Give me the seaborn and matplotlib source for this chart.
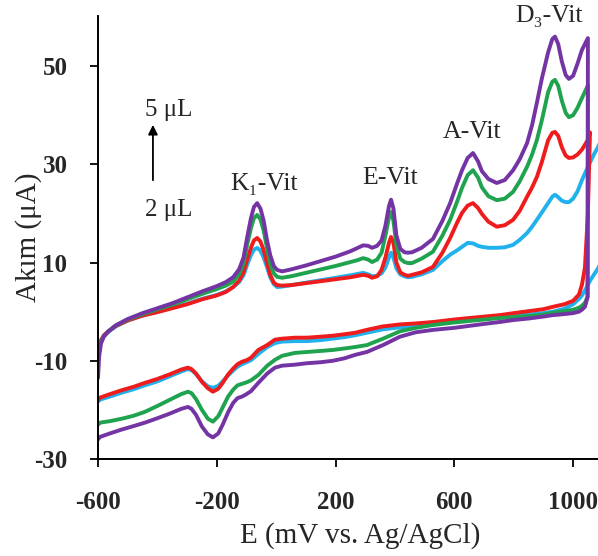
import matplotlib
matplotlib.use("Agg")
import matplotlib.pyplot as plt
import seaborn as sns

# Potential grids (mV vs. Ag/AgCl) for the anodic (forward) and cathodic (reverse) sweeps
x_fwd = [-600, -596, -590, -580, -565, -540, -500, -450, -400, -350, -300, -250,
         -200, -170, -145, -125, -110, -98, -85, -75, -64, -53, -42, -31, -20, -8,
         3, 20, 50, 100, 150, 200, 250, 275, 293, 310, 323, 340, 355, 368, 380,
         387, 395, 405, 418, 432, 444, 458, 490, 528, 560, 586, 610, 626, 645,
         663, 680, 693, 715, 743, 770, 798, 820, 845, 862, 878, 895, 916, 930,
         939, 950, 962, 975, 986, 1000, 1015, 1030, 1050]

x_rev = [1040, 1030, 1020, 1000, 970, 933, 900, 850, 800, 754, 700, 650, 600,
         530, 470, 417, 360, 306, 266, 230, 191, 150, 104, 63, 20, -4, -30, -60,
         -85, -100, -115, -130, -145, -162, -180, -195, -213, -230, -250, -270,
         -285, -297, -320, -360, -400, -442, -480, -520, -560, -593, -600]

# Current (uA), 2 uL sample (light blue)
blue_fwd = [-9.5, -7.3, -6.0, -5.0, -4.1, -3.0, -1.8, -0.8, 0.0, 0.8, 1.6, 2.6,
            3.4, 4.1, 5.0, 6.0, 7.4, 9.5, 11.5, 12.6, 13.0, 12.4, 11.0, 9.1, 7.0, 5.6,
            5.0, 5.1, 5.4, 5.9, 6.4, 6.9, 7.4, 7.7, 7.9, 7.6, 7.2, 7.3, 7.8, 9.0, 11.0,
            12.0, 11.0, 8.8, 7.6, 7.2, 7.0, 7.1, 7.6, 8.5, 10.3, 11.6, 12.5, 13.2, 14.0,
            13.9, 13.4, 13.2, 13.0, 13.0, 13.1, 13.6, 14.6, 16.0, 17.3, 18.7, 20.2, 22.1, 23.4,
            23.8, 23.3, 22.6, 22.3, 22.3, 23.0, 24.5, 26.8, 29.5]
blue_turn_x = [1070, 1084, 1100, 1100, 1084, 1070, 1057]
blue_turn_y = [32.0, 33.5, 36.0, 11.0, 8.8, 7.5, 6.3]
blue_rev = [4.3, 3.3, 2.6, 1.5, 0.6, 0.0, -0.3, -0.6, -0.9, -1.1, -1.4, -1.7, -2.0,
            -2.5, -2.9, -3.2, -3.6, -4.3, -4.8, -5.2, -5.5, -5.8, -6.0, -6.0, -6.1, -6.4, -7.2, -8.6,
            -9.9, -10.3, -10.7, -11.2, -12.0, -13.0, -14.2, -15.1, -15.5, -15.2, -14.2, -12.7,
            -11.9, -11.7, -12.2, -13.2, -14.2, -15.0, -15.8, -16.5, -17.3, -17.9, -18.3]

# 3 uL (red)
red_fwd = [-9.0, -7.0, -5.8, -4.8, -4.0, -2.9, -1.8, -0.8, -0.1, 0.7, 1.5, 2.5,
           3.3, 4.0, 5.0, 6.3, 8.0, 10.5, 13.0, 14.5, 15.0, 14.3, 12.5, 9.9, 7.5, 5.9,
           5.4, 5.3, 5.4, 5.8, 6.2, 6.6, 7.0, 7.3, 7.5, 7.3, 6.9, 7.2, 8.5, 11.0, 14.0,
           15.2, 14.0, 10.0, 8.0, 7.5, 7.3, 7.5, 8.0, 9.1, 12.0, 15.0, 18.2, 20.1, 21.6,
           22.1, 21.1, 19.9, 18.3, 17.3, 17.6, 18.7, 20.5, 23.4, 25.3, 27.4, 30.5, 34.9, 36.4,
           36.6, 35.8, 33.5, 31.8, 31.3, 31.4, 32.0, 33.0, 35.0]
red_turn_x = [1057, 1050]
red_turn_y = [36.5, 20.0]
red_rev = [9.0, 5.5, 3.5, 2.2, 1.5, 1.0, 0.5, 0.1, -0.3, -0.7, -1.0, -1.3, -1.6,
           -2.1, -2.4, -2.6, -3.0, -3.7, -4.3, -4.6, -4.9, -5.1, -5.3, -5.3, -5.5, -5.7, -6.8, -7.8,
           -9.4, -9.9, -10.2, -10.7, -11.6, -12.8, -14.5, -15.7, -16.3, -15.6, -14.3, -12.6,
           -11.7, -11.4, -11.8, -12.8, -13.7, -14.5, -15.3, -16.0, -16.8, -17.5, -18.0]

# 4 uL (green)
green_fwd = [-10.0, -7.5, -6.0, -5.0, -4.0, -2.8, -1.6, -0.5, 0.5, 1.4, 2.5, 3.6,
             4.6, 5.3, 6.1, 7.6, 9.8, 13.5, 17.0, 19.0, 19.7, 18.8, 16.5, 13.0, 9.8, 7.8,
             7.1, 6.9, 7.2, 7.9, 8.6, 9.3, 10.1, 10.5, 10.9, 10.6, 10.1, 10.6, 12.0, 15.5, 19.2,
             20.3, 18.5, 13.5, 10.8, 10.1, 9.9, 9.9, 10.8, 12.2, 15.5, 18.7, 22.5, 25.2, 27.8,
             28.8, 27.3, 25.3, 23.5, 22.7, 23.0, 24.4, 26.5, 29.5, 32.0, 34.9, 39.0, 44.7, 46.8,
             47.2, 46.0, 43.0, 40.5, 39.6, 40.0, 41.5, 43.5, 46.1]
green_turn_x = [1049]
green_turn_y = [3.0]
green_rev = [1.8, 1.2, 0.8, 0.4, 0.1, -0.2, -0.6, -0.9, -1.1, -1.3, -1.6, -1.9, -2.2,
             -2.7, -3.3, -4.0, -5.5, -6.8, -7.2, -7.5, -7.8, -8.0, -8.2, -8.4, -9.0, -9.8, -11.0, -12.9,
             -14.0, -14.4, -14.7, -15.0, -15.9, -17.3, -19.5, -21.3, -22.4, -21.8, -20.0, -17.8,
             -16.6, -16.3, -16.8, -18.0, -19.2, -20.4, -21.2, -21.8, -22.3, -22.6, -23.0]

# 5 uL (purple)
purple_fwd = [-13.5, -9.0, -6.5, -5.0, -4.0, -2.8, -1.5, -0.3, 0.7, 1.7, 2.9, 4.1,
              5.2, 6.0, 7.0, 8.6, 11.0, 15.0, 19.0, 21.3, 22.1, 21.0, 18.5, 14.6, 11.5, 9.3,
              8.5, 8.2, 8.6, 9.4, 10.3, 11.2, 12.3, 13.0, 13.5, 13.4, 13.0, 13.4, 14.5, 17.5, 21.5,
              22.8, 21.0, 15.5, 12.8, 12.1, 12.0, 12.1, 13.0, 14.8, 18.5, 22.1, 26.2, 28.8, 31.3,
              32.3, 30.6, 28.6, 27.0, 26.2, 26.8, 28.8, 31.0, 34.3, 38.0, 42.5, 47.5, 52.8, 55.5,
              56.0, 54.5, 51.0, 48.2, 47.4, 48.0, 50.5, 53.3, 55.7]
purple_turn_x = [1049]
purple_turn_y = [3.0]
purple_rev = [1.0, 0.4, 0.0, -0.3, -0.5, -0.7, -1.0, -1.4, -1.7, -2.1, -2.5, -2.9, -3.3,
              -3.7, -4.2, -5.1, -6.8, -8.2, -8.8, -9.5, -10.0, -10.3, -10.5, -10.8, -11.0, -11.4, -12.6, -14.5,
              -16.2, -16.8, -17.3, -17.6, -18.6, -20.5, -23.0, -24.8, -25.6, -25.0, -23.4, -21.0,
              -19.8, -19.4, -19.8, -20.8, -21.7, -22.6, -23.3, -24.0, -24.8, -25.5, -26.0]

series = [
    ("#21b1ec", blue_fwd, blue_turn_x, blue_turn_y, blue_rev),
    ("#ee1c1c", red_fwd, red_turn_x, red_turn_y, red_rev),
    ("#1fa34f", green_fwd, green_turn_x, green_turn_y, green_rev),
    ("#7434a4", purple_fwd, purple_turn_x, purple_turn_y, purple_rev),
]

sns.set_style("ticks")
plt.rcParams["font.family"] = ["Liberation Serif", "DejaVu Serif"]
plt.rcParams["axes.unicode_minus"] = False

fig = plt.figure(figsize=(5.98, 5.56), dpi=100)
ax = fig.add_axes([0.1639, 0.1745, 0.8361, 0.7967])

for color, fwd, tx, ty, rev in series:
    xs = x_fwd + tx + x_rev
    ys = fwd + ty + rev
    sns.lineplot(x=xs, y=ys, sort=False, estimator=None, color=color,
                 linewidth=2.8, ax=ax, solid_capstyle="round", solid_joinstyle="round")

ax.set_xlim(-600, 1084)
ax.set_ylim(-30, 60.2)
ax.set_xticks([-600, -200, 200, 600, 1000])
ax.set_yticks([-30, -10, 10, 30, 50])
for lab in ax.get_xticklabels() + ax.get_yticklabels():
    lab.set_fontweight("bold")
    lab.set_fontsize(18)
ax.tick_params(axis="x", direction="out", length=6, width=1.3, color="black", pad=17)
ax.tick_params(axis="y", direction="out", length=6, width=1.3, color="black", pad=16)
for side in ("top", "right"):
    ax.spines[side].set_visible(False)
for side in ("left", "bottom"):
    ax.spines[side].set_linewidth(1.4)
    ax.spines[side].set_color("black")

ax.set_xlabel("E (mV vs. Ag/AgCl)", fontsize=21)
ax.xaxis.set_label_coords(0.524, -0.143)
ax.set_ylabel("Akım (μA)", fontsize=21)
ax.yaxis.set_label_coords(-0.112, 0.5)

# Peak labels
peak_labels = ["K₁-Vit", "E-Vit", "A-Vit", "D₃-Vit"]
peak_x = [-40, 383, 660, 918]
peak_y = [26.0, 27.2, 36.6, 60.2]
for t, px, py in zip(peak_labels, peak_x, peak_y):
    ax.text(px, py, t, fontsize=18.5, ha="center", va="center", clip_on=False,
            family=["Liberation Serif", "DejaVu Serif"])

# Sample volume arrow
ax.text(-363, 41.0, "5 μL", fontsize=18, ha="center", va="center")
ax.text(-363, 20.7, "2 μL", fontsize=18, ha="center", va="center")
ax.annotate("", xy=(-415, 38.6), xytext=(-415, 26.2),
            arrowprops=dict(arrowstyle="-|>", color="black", lw=1.3, mutation_scale=14))

fig.savefig("out.png", dpi=100)
